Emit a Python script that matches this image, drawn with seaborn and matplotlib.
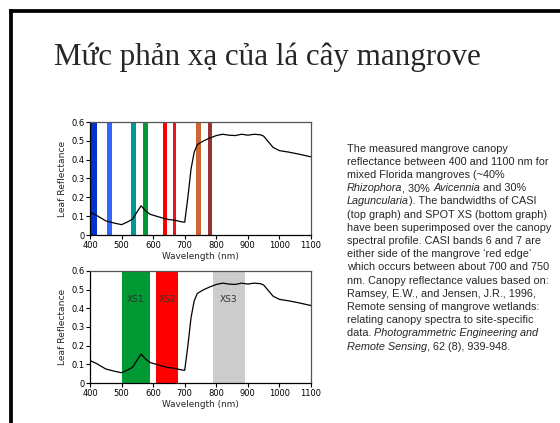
import matplotlib
matplotlib.use("Agg")
import matplotlib.pyplot as plt
import seaborn as sns
import pandas as pd
from matplotlib.lines import Line2D

# ---------------- data ----------------
wavelength = [400, 420, 450, 480, 500, 520, 535, 550, 562, 575, 590, 610, 630, 650,
              670, 690, 700, 710, 720, 730, 740, 760, 780, 800, 820, 840, 860, 880,
              900, 920, 940, 950, 965, 980, 1000, 1030, 1060, 1100]
reflectance = [0.12, 0.105, 0.075, 0.062, 0.055, 0.07, 0.085, 0.125, 0.155, 0.13, 0.11,
               0.1, 0.09, 0.082, 0.078, 0.07, 0.068, 0.2, 0.35, 0.44, 0.48, 0.50, 0.515,
               0.528, 0.535, 0.53, 0.528, 0.535, 0.53, 0.535, 0.532, 0.525, 0.495,
               0.465, 0.448, 0.44, 0.43, 0.415]

casi_start = [402, 453, 531, 569, 630, 663, 735, 774]
casi_end = [421, 469, 545, 584, 643, 673, 753, 786]
casi_colors = ["#0033CC", "#3366FF", "#009999", "#009933", "#FF0000", "#E8141E",
               "#CC6633", "#993333"]

xs_labels = ["XS1", "XS2", "XS3"]
xs_start = [500, 610, 790]
xs_end = [590, 680, 890]
xs_colors = ["#009933", "#FF0000", "#CCCCCC"]

xticks = [400, 500, 600, 700, 800, 900, 1000, 1100]
yticks = [0, 0.1, 0.2, 0.3, 0.4, 0.5, 0.6]
ytick_labels = ["0", "0.1", "0.2", "0.3", "0.4", "0.5", "0.6"]

title = "Mức phản xạ của lá cây mangrove"
paragraph = [
    [("The measured mangrove canopy", "normal")],
    [("reflectance between 400 and 1100 nm for", "normal")],
    [("mixed Florida mangroves (~40%", "normal")],
    [("Rhizophora", "italic"), (", 30% ", "normal"), ("Avicennia", "italic"), (" and 30%", "normal")],
    [("Laguncularia", "italic"), ("). The bandwidths of CASI", "normal")],
    [("(top graph) and SPOT XS (bottom graph)", "normal")],
    [("have been superimposed over the canopy", "normal")],
    [("spectral profile. CASI bands 6 and 7 are", "normal")],
    [("either side of the mangrove \u2018red edge\u2019", "normal")],
    [("which occurs between about 700 and 750", "normal")],
    [("nm. Canopy reflectance values based on:", "normal")],
    [("Ramsey, E.W., and Jensen, J.R., 1996,", "normal")],
    [("Remote sensing of mangrove wetlands:", "normal")],
    [("relating canopy spectra to site-specific", "normal")],
    [("data. ", "normal"), ("Photogrammetric Engineering and", "italic")],
    [("Remote Sensing", "italic"), (", 62 (8), 939-948.", "normal")],
]

# ---------------- figure ----------------
sns.set_style("white")
plt.rcParams["font.family"] = ["DejaVu Sans"]

W, H = 560, 423
fig = plt.figure(figsize=(W / 100, H / 100), dpi=100)
fig.patch.set_facecolor("white")

df = pd.DataFrame({"Wavelength": wavelength, "Reflectance": reflectance})


def box(l, t, r, b):
    return [l / W, 1 - b / H, (r - l) / W, (b - t) / H]


ax1 = fig.add_axes(box(90, 122, 311, 235))
ax2 = fig.add_axes(box(90, 271, 311, 383))

for i in range(len(casi_start)):
    ax1.axvspan(casi_start[i], casi_end[i], color=casi_colors[i], lw=0, zorder=1)

for i in range(len(xs_start)):
    ax2.axvspan(xs_start[i], xs_end[i], color=xs_colors[i], lw=0, zorder=1)
    ax2.text((xs_start[i] + xs_end[i]) / 2, 0.45, xs_labels[i], ha="center", va="center",
             fontsize=6.5, color="#333333", zorder=2)

for ax in (ax1, ax2):
    sns.lineplot(data=df, x="Wavelength", y="Reflectance", ax=ax, color="black",
                 lw=0.9, zorder=3)
    ax.set_xlim(400, 1100)
    ax.set_ylim(0, 0.6)
    ax.set_xticks(xticks)
    ax.set_xticklabels([str(v) for v in xticks], fontsize=6)
    ax.set_yticks(yticks)
    ax.set_yticklabels(ytick_labels, fontsize=6)
    ax.set_xlabel("Wavelength (nm)", fontsize=6.4, labelpad=2)
    ax.set_ylabel("Leaf Reflectance", fontsize=6.6, labelpad=3)
    ax.tick_params(axis="both", direction="out", length=3, width=0.8, pad=1,
                   bottom=True, left=True, colors="black")
    for s in ("left", "bottom"):
        ax.spines[s].set_color("black")
        ax.spines[s].set_linewidth(0.9)
    for s in ("top", "right"):
        ax.spines[s].set_color("#555555")
        ax.spines[s].set_linewidth(0.9)
    ax.set_facecolor("white")
    ax.grid(False)

# title
fig.text(267 / W, 1 - 65 / H, title, ha="center", va="baseline",
         fontsize=22.3, family=["Liberation Serif", "DejaVu Serif"])

# paragraph with mixed italics (segments chained after each other)
x0 = 347 / W
y_first = 1 - 153.5 / H
line_h = 13.2 / H
PFS = 7.8
for li, segs in enumerate(paragraph):
    y = y_first - li * line_h
    prev = None
    for txt, style in segs:
        kw = dict(fontsize=PFS, family=["Liberation Sans", "DejaVu Sans"],
                  style=style, va="bottom", ha="left")
        if prev is None:
            prev = fig.text(x0, y, txt, **kw)
        else:
            prev = fig.add_artist(plt.Annotation(txt, xy=(1, 0), xycoords=prev,
                                                 annotation_clip=False, **kw))

# slide border (left and top)
fig.add_artist(Line2D([11 / W, 11 / W], [0, 1 - 11 / H], color="black", lw=2.7,
                      transform=fig.transFigure, solid_capstyle="projecting"))
fig.add_artist(Line2D([11 / W, 1], [1 - 11 / H, 1 - 11 / H], color="black", lw=2.7,
                      transform=fig.transFigure, solid_capstyle="projecting"))

fig.savefig("out.png", dpi=100, facecolor="white")
